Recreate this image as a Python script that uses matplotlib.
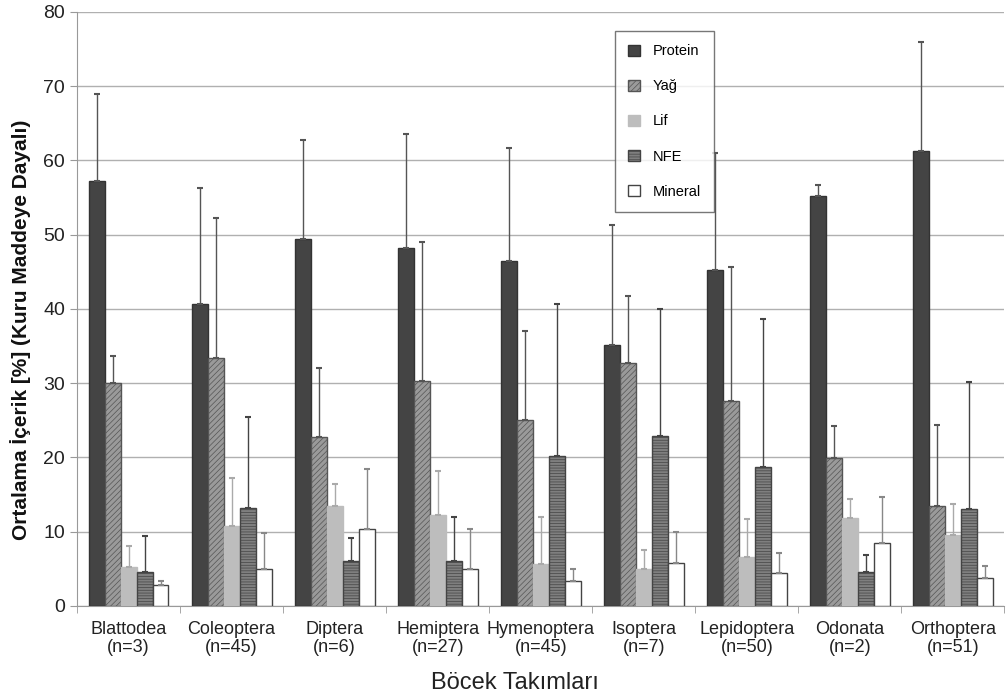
import matplotlib
matplotlib.use("Agg")
import matplotlib.pyplot as plt
import numpy as np

plt.rcParams['font.family'] = ['Liberation Sans', 'DejaVu Sans']
plt.rcParams['hatch.linewidth'] = 0.5

categories = ["Blattodea\n(n=3)", "Coleoptera\n(n=45)", "Diptera\n(n=6)", "Hemiptera\n(n=27)",
              "Hymenoptera\n(n=45)", "Isoptera\n(n=7)", "Lepidoptera\n(n=50)", "Odonata\n(n=2)",
              "Orthoptera\n(n=51)"]
series = ["Protein", "Yağ", "Lif", "NFE", "Mineral"]

protein = [57.2, 40.6, 49.4, 48.2, 46.4, 35.2, 45.3, 55.2, 61.2]
protein_top = [69.0, 56.3, 62.7, 63.5, 61.7, 51.3, 61.0, 56.7, 76.0]
yag = [30.0, 33.4, 22.7, 30.3, 25.0, 32.7, 27.6, 19.9, 13.4]
yag_top = [33.6, 52.3, 32.1, 49.0, 37.0, 41.8, 45.6, 24.2, 24.3]
lif = [5.2, 10.7, 13.5, 12.3, 5.6, 5.0, 6.6, 11.8, 9.6]
lif_top = [8.1, 17.2, 16.4, 18.1, 12.0, 7.5, 11.7, 14.4, 13.7]
nfe = [4.5, 13.2, 6.0, 6.0, 20.2, 22.9, 18.7, 4.6, 13.0]
nfe_top = [9.4, 25.5, 9.2, 12.0, 40.7, 40.0, 38.6, 6.9, 30.2]
mineral = [2.8, 5.0, 10.3, 5.0, 3.4, 5.8, 4.4, 8.5, 3.8]
mineral_top = [3.3, 9.8, 18.4, 10.4, 5.0, 9.9, 7.1, 14.7, 5.4]

values = [protein, yag, lif, nfe, mineral]
tops = [protein_top, yag_top, lif_top, nfe_top, mineral_top]
colors = ["#444444", "#9a9a9a", "#bdbdbd", "#7f7f7f", "#ffffff"]
hatches = [None, "//////", None, "------", None]
edges = ["#333333", "#555555", "#bdbdbd", "#444444", "#444444"]
errcolors = ["#555555", "#555555", "#aaaaaa", "#444444", "#888888"]

fig = plt.figure(figsize=(10.07, 6.98), dpi=100)
ax = fig.add_axes([0.0765, 0.132, 0.921, 0.851])

x = np.arange(len(categories))
w = 0.155
for i, (name, vals, tp) in enumerate(zip(series, values, tops)):
    pos = x + (i - 2) * w
    vals = np.array(vals)
    err = np.array(tp) - vals
    ax.bar(pos, vals, width=w, color=colors[i], edgecolor=edges[i], hatch=hatches[i],
           linewidth=1.0, label=name, zorder=3)
    ax.errorbar(pos, vals, yerr=[np.zeros_like(err), err], fmt='none', ecolor=errcolors[i],
                elinewidth=1.0, capsize=2.5, capthick=1.5, zorder=4)

ax.set_ylim(0, 80)
ax.set_xlim(-0.5, len(categories) - 0.5)
ax.set_yticks(np.arange(0, 81, 10))
ax.yaxis.grid(True, color="#b0b0b0", linewidth=1.0, zorder=0)
ax.set_axisbelow(True)
ax.set_xticks(x)
ax.set_xticklabels(categories, fontsize=13, linespacing=1.05, color="#222222")
ax.set_xticks(np.arange(-0.5, len(categories) - 0.4, 1), minor=True)
ax.tick_params(axis='x', which='major', length=0, pad=11)
ax.tick_params(axis='x', which='minor', length=5, color="#999999")
ax.tick_params(axis='y', labelsize=14, length=5, color="#999999", labelcolor="#222222")
for s in ["top", "right"]:
    ax.spines[s].set_visible(False)
for s in ["left", "bottom"]:
    ax.spines[s].set_color("#999999")

ax.set_ylabel("Ortalama İçerik [%] (Kuru Maddeye Dayalı)", fontsize=15, fontweight='bold',
              color="#111111")
ax.yaxis.set_label_coords(-0.05, 0.465)
ax.set_xlabel("Böcek Takımları", fontsize=17, color="#222222")
ax.xaxis.set_label_coords(0.472, -0.112)

leg = ax.legend(loc='upper left', bbox_to_anchor=(0.572, 0.98), fontsize=10.5, labelspacing=1.45,
                frameon=True, fancybox=False, edgecolor="#555555", handlelength=0.8,
                handleheight=0.8, borderpad=0.9, handletextpad=0.9)
leg.get_frame().set_linewidth(1.0)

fig.savefig("out.png", dpi=100)
